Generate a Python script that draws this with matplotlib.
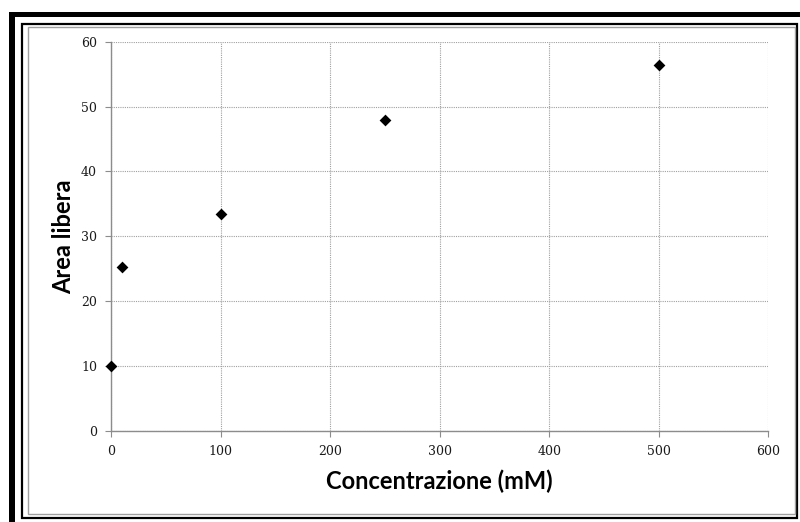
import matplotlib
matplotlib.use("Agg")
import matplotlib.pyplot as plt
from matplotlib.patches import Rectangle

# Data
concentrazione = [0, 10, 100, 250, 500]
area_libera = [10.0, 25.3, 33.4, 48.0, 56.4]
x_ticks = [0, 100, 200, 300, 400, 500, 600]
y_ticks = [0, 10, 20, 30, 40, 50, 60]
x_label = "Concentrazione (mM)"
y_label = "Area libera"

W, H = 800, 522
fig = plt.figure(figsize=(W / 100, H / 100), dpi=100)
fig.patch.set_facecolor("white")

def px_rect(x0, y0, x1, y1, **kw):
    # pixel coordinates from top-left
    r = Rectangle((x0 / W, 1 - y1 / H), (x1 - x0) / W, (y1 - y0) / H,
                  transform=fig.transFigure, **kw)
    fig.add_artist(r)

# Frame decorations
px_rect(9, 12, 800, 16.5, facecolor="black", edgecolor="none")
px_rect(9, 12, 14.5, 522, facecolor="black", edgecolor="none")
px_rect(21.5, 24, 797, 517.5, facecolor="none", edgecolor="black", linewidth=1.6)
px_rect(28, 26.5, 795, 513.5, facecolor="none", edgecolor="#a0a0a0", linewidth=1.0)

ax = fig.add_axes([111 / W, 1 - 431 / H, (768.3 - 111) / W, (431 - 41.7) / H])
ax.set_facecolor("white")

ax.scatter(concentrazione, area_libera, marker="D", s=36, color="black", zorder=3,
           linewidths=0, clip_on=False)

ax.set_xlim(0, 600)
ax.set_ylim(0, 60)
ax.set_xticks(x_ticks)
ax.set_yticks(y_ticks)
ax.set_xticklabels([str(v) for v in x_ticks])
ax.set_yticklabels([str(v) for v in y_ticks])

ax.grid(True, color="#a0a0a0", linestyle=(0, (1, 1)), linewidth=0.8)
ax.set_axisbelow(True)
for s in ["top", "right"]:
    ax.spines[s].set_visible(False)
for s in ["left", "bottom"]:
    ax.spines[s].set_color("#8c8c8c")
    ax.spines[s].set_linewidth(1.0)

ax.tick_params(axis="both", direction="out", length=4, width=0.8, color="#8c8c8c",
               labelsize=9, pad=6)
for lab in ax.get_xticklabels() + ax.get_yticklabels():
    lab.set_family(["DejaVu Serif"])
    lab.set_color("#1a1a1a")

ax.set_xlabel(x_label, fontsize=17, fontweight="bold", family=["Lato", "DejaVu Sans"])
ax.set_ylabel(y_label, fontsize=17, fontweight="bold", family=["Lato", "DejaVu Sans"])
ax.xaxis.set_label_coords(0.5, -0.128)
ax.yaxis.set_label_coords(-0.0715, 0.5)
ax.xaxis.label.set_va("center")
ax.yaxis.label.set_va("center")

fig.savefig("out.png", dpi=100)
